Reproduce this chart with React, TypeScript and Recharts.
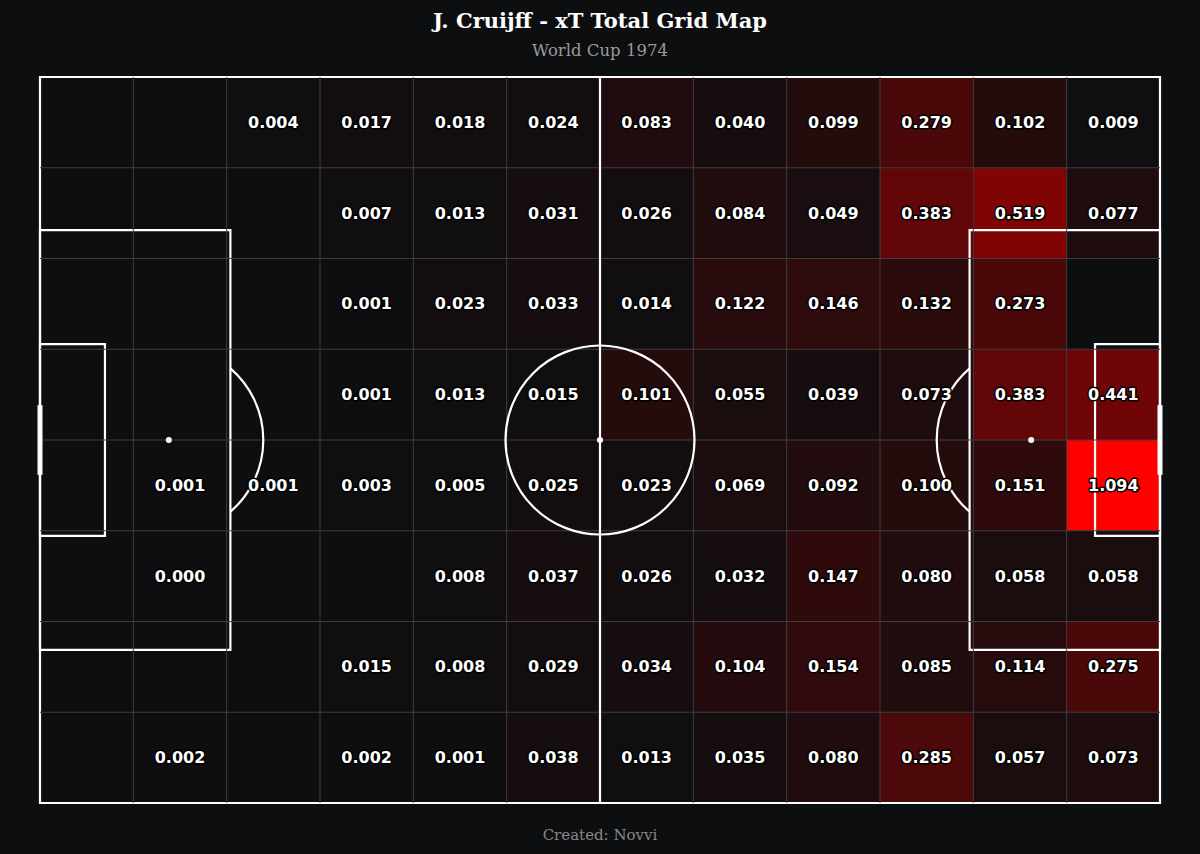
import {
  ScatterChart,
  Scatter,
  XAxis,
  YAxis,
  ReferenceArea,
  ReferenceLine,
  ReferenceDot,
} from 'recharts';

// xT totals per zone, top row first (null = no actions)
const row0 = [null, null, 0.004, 0.017, 0.018, 0.024, 0.083, 0.04, 0.099, 0.279, 0.102, 0.009];
const row1 = [null, null, null, 0.007, 0.013, 0.031, 0.026, 0.084, 0.049, 0.383, 0.519, 0.077];
const row2 = [null, null, null, 0.001, 0.023, 0.033, 0.014, 0.122, 0.146, 0.132, 0.273, null];
const row3 = [null, null, null, 0.001, 0.013, 0.015, 0.101, 0.055, 0.039, 0.073, 0.383, 0.441];
const row4 = [null, 0.001, 0.001, 0.003, 0.005, 0.025, 0.023, 0.069, 0.092, 0.1, 0.151, 1.094];
const row5 = [null, 0.0, null, null, 0.008, 0.037, 0.026, 0.032, 0.147, 0.08, 0.058, 0.058];
const row6 = [null, null, null, 0.015, 0.008, 0.029, 0.034, 0.104, 0.154, 0.085, 0.114, 0.275];
const row7 = [null, 0.002, null, 0.002, 0.001, 0.038, 0.013, 0.035, 0.08, 0.285, 0.057, 0.073];

const gridRows: (number | null)[][] = [row0, row1, row2, row3, row4, row5, row6, row7];

const title = 'J. Cruijff - xT Total Grid Map';
const subtitle = 'World Cup 1974';
const footer = 'Created: Novvi';

const COLS = 12;
const ROWS = 8;
const CW = 100 / COLS;
const RH = 100 / ROWS;
const BG = '#0d0e10';
const maxVal = Math.max(...gridRows.flat().map((v) => v ?? 0));

// pixel constants for the pitch arcs (plot is 1120px wide for 100 units)
const PX_X = 11.2;
const CIRCLE_R = 94.5;

function cellColor(v: number) {
  const t = v / maxVal;
  const r = Math.round(14 + (255 - 14) * t);
  const g = Math.round(14 * (1 - t) * (1 - t));
  const b = Math.round(16 * (1 - t) * (1 - t));
  return `rgb(${r},${g},${b})`;
}

const cells = gridRows.flatMap((row, r) =>
  row.map((v, c) => ({ r, c, v })).filter((d) => d.v !== null)
) as { r: number; c: number; v: number }[];

const labels = cells.map((d) => ({
  x: d.c * CW + CW / 2,
  y: d.r * RH + RH / 2,
  v: d.v,
}));

const LabelShape = (props: any) => {
  const { cx, cy, payload } = props;
  return (
    <text
      x={cx}
      y={cy}
      textAnchor="middle"
      dominantBaseline="central"
      fill="#fff"
      stroke="#000"
      strokeWidth={3}
      paintOrder="stroke"
      strokeLinejoin="round"
      fontFamily="DejaVu Sans"
      fontWeight="bold"
      fontSize={16}
    >
      {payload.v.toFixed(3)}
    </text>
  );
};

const arc = (dir: 1 | -1) => (props: any) => {
  const { cx, cy } = props;
  const dx = (17 - 11.5) * PX_X;
  const dy = Math.sqrt(CIRCLE_R * CIRCLE_R - dx * dx);
  const x = cx + dir * dx;
  const y1 = dir === 1 ? cy - dy : cy + dy;
  const y2 = dir === 1 ? cy + dy : cy - dy;
  return (
    <path
      d={`M ${x} ${y1} A ${CIRCLE_R} ${CIRCLE_R} 0 0 1 ${x} ${y2}`}
      fill="none"
      stroke="#fff"
      strokeWidth={2.2}
    />
  );
};

const line = { stroke: '#fff', strokeWidth: 2.2, fill: 'none', fillOpacity: 0, ifOverflow: 'visible' as const };

export default function App() {
  return (
    <div style={{ position: 'absolute', left: 0, top: 0, width: 1200, height: 854, background: BG }}>
      <div style={{ position: 'absolute', top: 10, width: 1200, textAlign: 'center', color: '#fff', fontFamily: 'DejaVu Serif', fontWeight: 'bold', fontSize: 21, lineHeight: 1 }}>
        {title}
      </div>
      <div style={{ position: 'absolute', top: 43, width: 1200, textAlign: 'center', color: '#999', fontFamily: 'DejaVu Serif', fontSize: 16.5, lineHeight: 1 }}>
        {subtitle}
      </div>
      <div style={{ position: 'absolute', top: 828, width: 1200, textAlign: 'center', color: '#888', fontFamily: 'DejaVu Serif', fontSize: 15, lineHeight: 1 }}>
        {footer}
      </div>
      <div style={{ position: 'absolute', left: 0, top: 0 }}>
        <ScatterChart width={1200} height={854} margin={{ top: 77, right: 40, bottom: 51, left: 40 }}>
          <XAxis type="number" dataKey="x" domain={[0, 100]} hide />
          <YAxis type="number" dataKey="y" domain={[0, 100]} reversed hide />
          {cells.map((d) => (
            <ReferenceArea
              key={`c${d.r}-${d.c}`}
              x1={d.c * CW}
              x2={(d.c + 1) * CW}
              y1={d.r * RH}
              y2={(d.r + 1) * RH}
              fill={cellColor(d.v)}
              fillOpacity={1}
              stroke="none"
            />
          ))}
          {Array.from({ length: COLS - 1 }, (_, i) => (
            <ReferenceLine key={`gx${i}`} x={(i + 1) * CW} stroke="#3e3e40" strokeWidth={1} />
          ))}
          {Array.from({ length: ROWS - 1 }, (_, i) => (
            <ReferenceLine key={`gy${i}`} y={(i + 1) * RH} stroke="#3e3e40" strokeWidth={1} />
          ))}
          {/* pitch markings */}
          <ReferenceArea x1={0} x2={100} y1={0} y2={100} {...line} />
          <ReferenceArea x1={0} x2={17} y1={21.1} y2={78.9} {...line} />
          <ReferenceArea x1={83} x2={100} y1={21.1} y2={78.9} {...line} />
          <ReferenceArea x1={0} x2={5.8} y1={36.8} y2={63.2} {...line} />
          <ReferenceArea x1={94.2} x2={100} y1={36.8} y2={63.2} {...line} />
          <ReferenceLine x={50} stroke="#fff" strokeWidth={2.2} />
          <ReferenceLine segment={[{ x: 0, y: 45.2 }, { x: 0, y: 54.8 }]} stroke="#fff" strokeWidth={5} ifOverflow="visible" />
          <ReferenceLine segment={[{ x: 100, y: 45.2 }, { x: 100, y: 54.8 }]} stroke="#fff" strokeWidth={5} ifOverflow="visible" />
          <ReferenceDot x={50} y={50} r={CIRCLE_R} fill="none" stroke="#fff" strokeWidth={2.2} />
          <ReferenceDot x={50} y={50} r={3} fill="#fff" stroke="none" />
          <ReferenceDot x={11.5} y={50} r={3} fill="#fff" stroke="none" />
          <ReferenceDot x={88.5} y={50} r={3} fill="#fff" stroke="none" />
          <ReferenceDot x={11.5} y={50} r={CIRCLE_R} shape={arc(1)} />
          <ReferenceDot x={88.5} y={50} r={CIRCLE_R} shape={arc(-1)} />
          <Scatter data={labels} shape={LabelShape} isAnimationActive={false} />
        </ScatterChart>
      </div>
    </div>
  );
}
